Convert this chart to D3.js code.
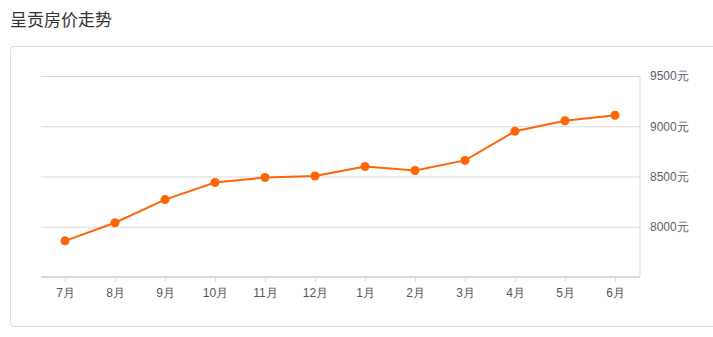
<!DOCTYPE html>
<html>
<head>
<meta charset="utf-8">
<script src="https://cdn.jsdelivr.net/npm/d3@7"></script>
<style>
  body { margin: 0; background: #fff; font-family: "Open Sans", "Noto Sans CJK SC", sans-serif; }
  #title { position: absolute; left: 10px; top: 6px; font-size: 17px; color: #333; font-family: "Noto Sans CJK SC", sans-serif; }
  #panel { position: absolute; left: 10px; top: 46px; width: 720px; height: 281px; border: 1px solid #ddd; border-radius: 4px; box-sizing: border-box; }
  svg { position: absolute; left: 0; top: 0; }
</style>
</head>
<body>
<div id="title">呈贡房价走势</div>
<div id="panel"></div>
<div id="chart"></div>
<script>
// monthly average price, July to June
const months = ["7月", "8月", "9月", "10月", "11月", "12月", "1月", "2月", "3月", "4月", "5月", "6月"];
const prices = [7860, 8040, 8270, 8440, 8490, 8505, 8600, 8560, 8660, 8950, 9055, 9110];
const yTicks = [8000, 8500, 9000, 9500];

const W = 713, H = 337;
const plotLeft = 41, plotRight = 640, plotTop = 76, plotBottom = 277;

const svg = d3.select("#chart").append("svg")
  .attr("width", W)
  .attr("height", H);

const x = d3.scalePoint()
  .domain(months)
  .range([plotLeft + 24, plotRight - 25]);

const y = d3.scaleLinear()
  .domain([7500, 9500])
  .range([plotBottom, plotTop]);

// gridlines + right labels
const yAxis = svg.append("g")
  .attr("transform", `translate(${plotRight}, 0)`)
  .call(d3.axisRight(y).tickValues(yTicks).tickSize(-(plotRight - plotLeft)).tickPadding(10).tickFormat(d => d + "元"));
yAxis.select(".domain").attr("stroke", "#d9d9d9").attr("d", `M0,${plotTop}V${plotBottom}`);
yAxis.selectAll(".tick line").attr("stroke", "#d9d9d9");
yAxis.selectAll(".tick text")
  .attr("fill", "#5a5f6e")
  .style("font-size", "12px")
  .attr("dy", "0.32em");

// bottom axis
const xAxis = svg.append("g")
  .attr("transform", `translate(0, ${plotBottom})`)
  .call(d3.axisBottom(x).tickSize(5).tickPadding(6));
xAxis.select(".domain").attr("stroke", "#d9d9d9").attr("stroke-width", 2).attr("d", `M${plotLeft},0H${plotRight}`);
xAxis.selectAll(".tick line").attr("stroke", "#d9d9d9");
xAxis.selectAll(".tick text")
  .attr("fill", "#555")
  .style("font-size", "12px");

// price line
svg.append("path")
  .datum(prices)
  .attr("fill", "none")
  .attr("stroke", "#ff6405")
  .attr("stroke-width", 2)
  .attr("d", d3.line()
    .x((d, i) => x(months[i]))
    .y(d => y(d)));

svg.selectAll(".dot")
  .data(prices)
  .enter().append("circle")
  .attr("cx", (d, i) => x(months[i]))
  .attr("cy", d => y(d))
  .attr("r", 4.5)
  .attr("fill", "#ff6405");
</script>
</body>
</html>
